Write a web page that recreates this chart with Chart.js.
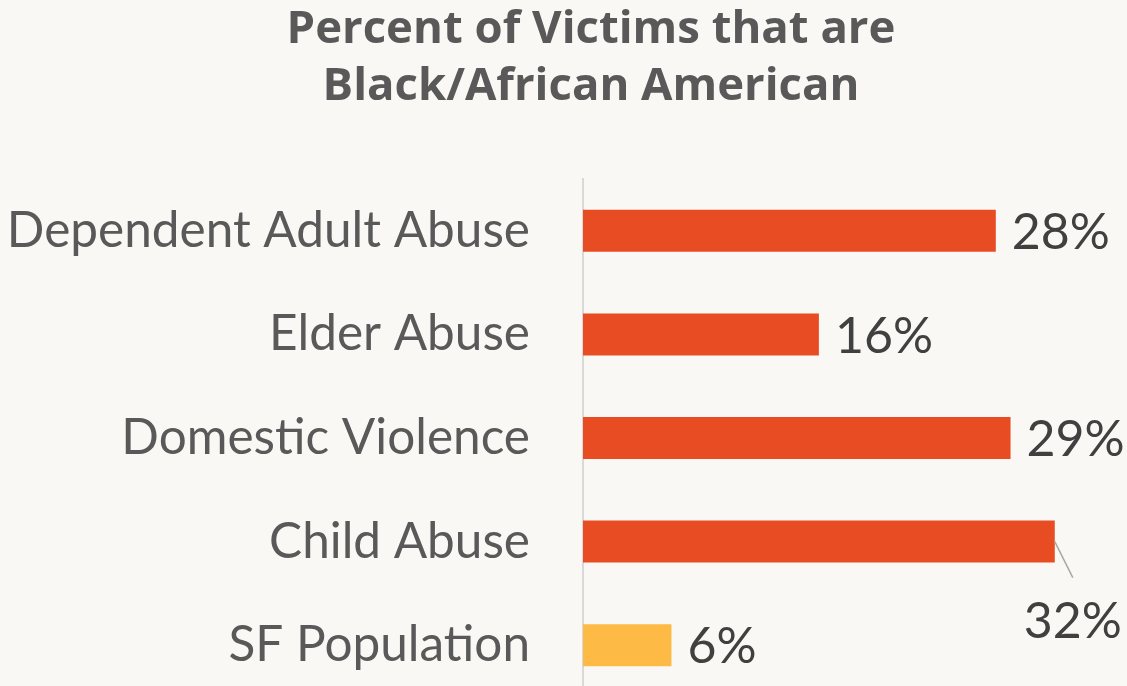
<!DOCTYPE html>
<html>
<head>
<meta charset="utf-8">
<script src="https://cdn.jsdelivr.net/npm/chart.js@4"></script>
<style>
  html, body { margin: 0; padding: 0; background: #f9f8f4; overflow: hidden; }
  canvas { display: block; }
</style>
</head>
<body>
<canvas id="victimsChart" width="1127" height="697"></canvas>
<script>
// Percent of victims that are Black/African American
const titleLines = ['Percent of Victims that are', 'Black/African American'];
const categories = ['Dependent Adult Abuse', 'Elder Abuse', 'Domestic Violence', 'Child Abuse', 'SF Population'];
const percentValues = [28, 16, 29, 32, 6];
const barColors = ['#e84c22', '#e84c22', '#e84c22', '#e84c22', '#fdba45'];

const LABEL_FONT = '50px Lato';

// Title drawn by hand so it can sit over the bars rather than the canvas middle
const titlePlugin = {
  id: 'titleLines',
  afterDraw(chart) {
    const ctx = chart.ctx;
    ctx.save();
    ctx.fillStyle = '#595959';
    ctx.font = 'bold 45.5px "Open Sans"';
    ctx.textAlign = 'center';
    ctx.textBaseline = 'middle';
    titleLines.forEach((line, i) => {
      ctx.fillText(line, 591, 30 + i * 57);
    });
    ctx.restore();
  }
};

// Value labels at the end of each bar; if one would run off the canvas it goes below with a leader line
const valueLabelPlugin = {
  id: 'valueLabels',
  afterDatasetsDraw(chart) {
    const ctx = chart.ctx;
    const meta = chart.getDatasetMeta(0);
    ctx.save();
    ctx.font = LABEL_FONT;
    ctx.fillStyle = '#404040';
    ctx.textBaseline = 'middle';
    meta.data.forEach((bar, i) => {
      const text = percentValues[i] + '%';
      const w = ctx.measureText(text).width;
      const x = bar.x + 16;
      if (x + w > chart.width) {
        // leader line down to the label
        ctx.strokeStyle = '#a6a6a6';
        ctx.lineWidth = 1.5;
        ctx.beginPath();
        ctx.moveTo(bar.x, bar.y);
        ctx.lineTo(bar.x + 18, bar.y + 36);
        ctx.stroke();
        ctx.textAlign = 'center';
        ctx.fillText(text, bar.x + 18, bar.y + 80);
      } else {
        ctx.textAlign = 'left';
        ctx.fillText(text, x, bar.y + 2);
      }
    });
    ctx.restore();
  }
};

const ctx = document.getElementById('victimsChart').getContext('2d');
const victimsChart = new Chart(ctx, {
  type: 'bar',
  data: {
    labels: categories,
    datasets: [{
      data: percentValues,
      backgroundColor: barColors,
      borderWidth: 0,
      barPercentage: 0.405,
      categoryPercentage: 1
    }]
  },
  options: {
    indexAxis: 'y',
    responsive: false,
    animation: false,
    devicePixelRatio: 1,
    layout: {
      padding: { top: 179, right: 28, bottom: 0, left: 0 }
    },
    plugins: {
      legend: { display: false },
      title: { display: false },
      tooltip: { enabled: false }
    },
    scales: {
      x: {
        display: false,
        min: 0,
        max: 35
      },
      y: {
        afterFit(scale) {
          scale.width = 583;
          // label half-heights + tick padding would otherwise push the plot up
          scale.paddingTop = 0;
          scale.paddingBottom = 0;
        },
        grid: { display: false, drawTicks: false },
        border: { display: true, color: '#d9d9d9', width: 2 },
        ticks: {
          color: '#595959',
          padding: 53,
          font: { family: 'Lato', size: 49.5 }
        }
      }
    }
  },
  plugins: [titlePlugin, valueLabelPlugin]
});
</script>
</body>
</html>
